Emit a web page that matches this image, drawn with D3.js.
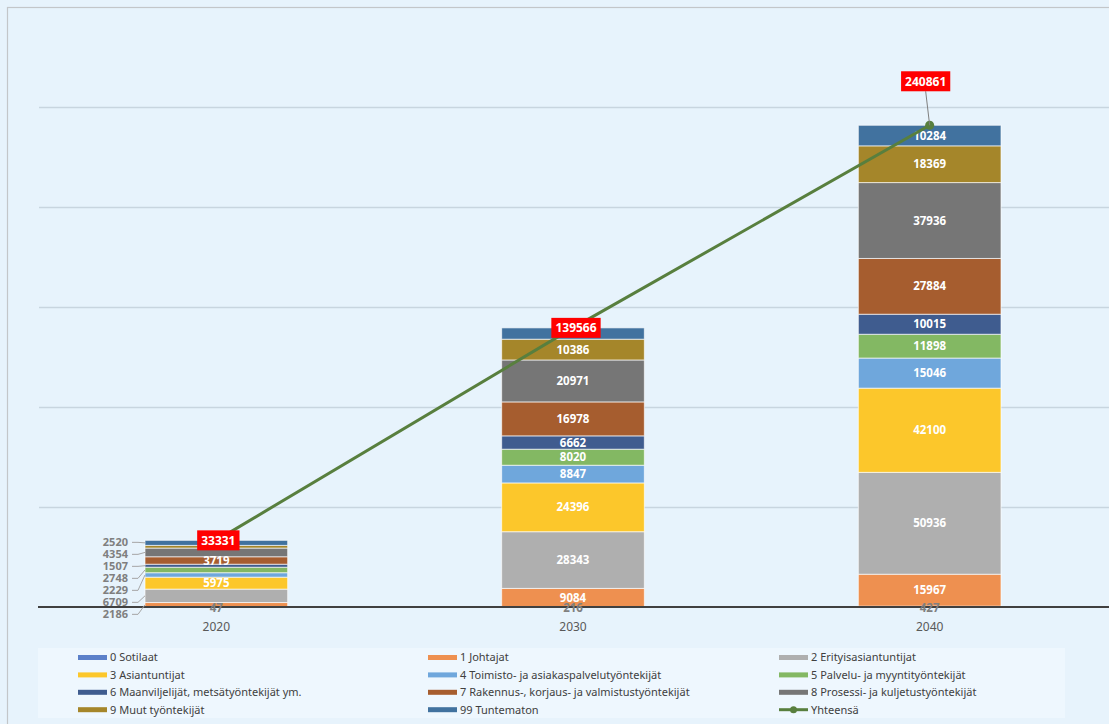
<!DOCTYPE html>
<html>
<head>
<meta charset="utf-8">
<script src="https://cdn.jsdelivr.net/npm/d3@7"></script>
<style>
  html, body { margin: 0; padding: 0; background: #e7f3fc; }
  svg { display: block; font-family: "Noto Sans", "DejaVu Sans", sans-serif; }
</style>
</head>
<body>
<svg id="chart" width="1109" height="724"></svg>
<script>
// ---------- DATA ----------
const years = ["2020", "2030", "2040"];
const seriesNames = [
  "0 Sotilaat",
  "1 Johtajat",
  "2 Erityisasiantuntijat",
  "3 Asiantuntijat",
  "4 Toimisto- ja asiakaspalvelutyöntekijät",
  "5 Palvelu- ja myyntityöntekijät",
  "6 Maanviljelijät, metsätyöntekijät ym.",
  "7 Rakennus-, korjaus- ja valmistustyöntekijät",
  "8 Prosessi- ja kuljetustyöntekijät",
  "9 Muut työntekijät",
  "99 Tuntematon"
];
const sotilaat       = [47, 216, 427];
const johtajat       = [2186, 9084, 15967];
const erityis        = [6709, 28343, 50936];
const asiantuntijat  = [5975, 24396, 42100];
const toimisto       = [2229, 8847, 15046];
const palvelu        = [2748, 8020, 11898];
const maanviljelijat = [1507, 6662, 10015];
const rakennus       = [3719, 16978, 27884];
const prosessi       = [4354, 20971, 37936];
const muut           = [1337, 10386, 18369];
const tuntematon     = [2520, 5663, 10284];
const totals         = [33331, 139566, 240861];
const totalName = "Yhteensä";
const yTicks = [50000, 100000, 150000, 200000, 250000];

// ---------- STYLE CONFIG ----------
const colors = ["#5b80c9", "#ee9050", "#afafaf", "#fcc72b", "#6fa7dc", "#83b863",
                "#3f5c8f", "#a65d2f", "#767676", "#a5862a", "#41729f"];
const lineColor = "#587f3e";
// labels drawn outside (left, with leaders) for the first category
const outsideFirst = ["99 Tuntematon", "8 Prosessi- ja kuljetustyöntekijät",
  "6 Maanviljelijät, metsätyöntekijät ym.", "5 Palvelu- ja myyntityöntekijät",
  "4 Toimisto- ja asiakaspalvelutyöntekijät", "2 Erityisasiantuntijat", "1 Johtajat"];
const hiddenLabels = [["9 Muut työntekijät", "2020"], ["99 Tuntematon", "2030"]];
const totalLabelShift = [[2, 0], [3, 0], [-4, -44]];

const valuesBySeries = [sotilaat, johtajat, erityis, asiantuntijat, toimisto, palvelu,
  maanviljelijat, rakennus, prosessi, muut, tuntematon];

// ---------- SETUP ----------
const svg = d3.select("#chart");
const W = 1109, H = 724;
const plot = { left: 38, right: 1108, top: 7, bottom: 607 };

svg.append("rect").attr("x", 0).attr("y", 0).attr("width", W).attr("height", H).attr("fill", "#e7f3fc");
svg.append("rect").attr("x", 7.5).attr("y", 7.5).attr("width", 1200).attr("height", 800)
  .attr("fill", "#e7f3fc").attr("stroke", "#c3c6c9").attr("stroke-width", 1.2);

const x = d3.scaleBand().domain(years).range([plot.left, plot.right]).paddingInner(0.6).paddingOuter(0.3);
const y = d3.scaleLinear().domain([0, 300000]).range([plot.bottom, plot.top]);

// gridlines
svg.append("g").selectAll("line").data(yTicks).join("line")
  .attr("x1", plot.left + 1).attr("x2", W)
  .attr("y1", d => Math.round(y(d)) + 0.5).attr("y2", d => Math.round(y(d)) + 0.5)
  .attr("stroke", "#c8d5df").attr("stroke-width", 1.5);

// stacked data
const table = years.map((yr, i) => {
  const o = { year: yr };
  seriesNames.forEach((s, k) => o[s] = valuesBySeries[k][i]);
  return o;
});
const stack = d3.stack().keys(seriesNames)(table);

const gBars = svg.append("g");
stack.forEach((layer, k) => {
  gBars.selectAll(null).data(layer).join("rect")
    .attr("x", d => x(d.data.year))
    .attr("width", x.bandwidth())
    .attr("y", d => y(d[1]))
    .attr("height", d => Math.max(0, y(d[0]) - y(d[1])))
    .attr("fill", colors[k])
    .attr("stroke", "rgba(255,255,255,0.65)")
    .attr("stroke-width", 1);
});

// baseline axis
svg.append("line").attr("x1", plot.left).attr("x2", W)
  .attr("y1", plot.bottom).attr("y2", plot.bottom)
  .attr("stroke", "#404040").attr("stroke-width", 2);

// x axis labels
const xAxis = svg.append("g").attr("transform", `translate(0,${plot.bottom + 13})`)
  .call(d3.axisBottom(x).tickSize(0).tickPadding(0));
xAxis.select(".domain").remove();
xAxis.selectAll("text").attr("fill", "#595959").attr("dy", "0.95em").style("font-size", "12px")
  .style("font-family", "'Noto Sans', sans-serif");

// segment labels
const gLab = svg.append("g");
const fmt = d3.format("d");
const isHidden = (s, yr) => hiddenLabels.some(h => h[0] === s && h[1] === yr);
stack.forEach((layer, k) => {
  const s = seriesNames[k];
  layer.forEach(d => {
    const yr = d.data.year;
    if (isHidden(s, yr)) return;
    if (yr === years[0] && outsideFirst.includes(s)) return;
    const v = d[1] - d[0];
    const cy = (y(d[0]) + y(d[1])) / 2;
    const gray = (k === 0);
    gLab.append("text")
      .attr("x", x(yr) + x.bandwidth() / 2)
      .attr("y", cy + (gray ? 1 : 0))
      .attr("dy", "0.36em")
      .attr("text-anchor", "middle")
      .attr("fill", gray ? "#808080" : "#ffffff")
      .style("font-size", "11.5px").style("font-weight", "bold")
      .text(fmt(v));
  });
});

// outside labels with leaders for first category
(function () {
  const yr = years[0];
  const x0 = x(yr);
  const items = outsideFirst.map(s => {
    const k = seriesNames.indexOf(s);
    const d = stack[k][0];
    return { s, v: d[1] - d[0], cy: (y(d[0]) + y(d[1])) / 2 };
  }).sort((a, b) => a.cy - b.cy);
  const step = 12;
  const startY = items[0].cy - 0.5;
  items.forEach((it, i) => {
    const ly = startY + i * step;
    gLab.append("path")
      .attr("d", `M${x0 - 13},${ly} L${x0 - 7},${ly} L${x0},${it.cy}`)
      .attr("fill", "none").attr("stroke", "#a6a6a6").attr("stroke-width", 1);
    gLab.append("text")
      .attr("x", x0 - 17).attr("y", ly).attr("dy", "0.34em")
      .attr("text-anchor", "end").attr("fill", "#7f7f7f")
      .style("font-size", "11px").style("font-weight", "bold")
      .text(fmt(it.v));
  });
})();

// total line
const cx = yr => x(yr) + x.bandwidth() / 2;
svg.append("path").datum(totals)
  .attr("d", d3.line().x((d, i) => cx(years[i])).y(d => y(d)))
  .attr("fill", "none").attr("stroke", lineColor).attr("stroke-width", 3);
svg.append("g").selectAll("circle").data(totals).join("circle")
  .attr("cx", (d, i) => cx(years[i])).attr("cy", d => y(d)).attr("r", 4.5)
  .attr("fill", lineColor);

// total labels
const gTot = svg.append("g");
totals.forEach((v, i) => {
  const px = cx(years[i]), py = y(v);
  const lx = px + totalLabelShift[i][0], ly = py + totalLabelShift[i][1];
  const t = gTot.append("text").attr("x", lx).attr("y", ly).attr("dy", "0.36em")
    .attr("text-anchor", "middle").attr("fill", "#ffffff")
    .style("font-size", "12px").style("font-weight", "bold").text(fmt(v));
  const bb = t.node().getBBox();
  const bw = bb.width + 8, bh = 20;
  if (totalLabelShift[i][1] !== 0) {
    gTot.insert("line", "text").attr("x1", lx).attr("y1", ly + bh / 2)
      .attr("x2", px).attr("y2", py).attr("stroke", "#7f7f7f").attr("stroke-width", 1);
  }
  gTot.insert("rect", "text").attr("x", lx - bw / 2).attr("y", ly - bh / 2)
    .attr("width", bw).attr("height", bh).attr("fill", "#ff0000");
});
gTot.selectAll("text").raise();

// legend
const legend = svg.append("g");
legend.append("rect").attr("x", 38).attr("y", 648).attr("width", 1027).attr("height", 70)
  .attr("fill", "#eef7fe");
const legItems = seriesNames.map((s, k) => ({ name: s, color: colors[k], line: false }))
  .concat([{ name: totalName, color: lineColor, line: true }]);
const colX = [78, 428, 779];
legItems.forEach((it, i) => {
  const col = i % 3, row = Math.floor(i / 3);
  const lx = colX[col], ly = 657.5 + row * 17.4;
  const g = legend.append("g").attr("transform", `translate(${lx},${ly})`);
  if (it.line) {
    g.append("line").attr("x1", 0).attr("x2", 29).attr("y1", 0).attr("y2", 0)
      .attr("stroke", it.color).attr("stroke-width", 3);
    g.append("circle").attr("cx", 14.5).attr("cy", 0).attr("r", 3.5).attr("fill", it.color);
  } else {
    g.append("rect").attr("x", 0).attr("y", -2.5).attr("width", 29).attr("height", 5).attr("fill", it.color);
  }
  g.append("text").attr("x", 32).attr("y", 0).attr("dy", "0.35em")
    .attr("fill", "#404040").style("font-size", "11px").text(it.name);
});
</script>
</body>
</html>
